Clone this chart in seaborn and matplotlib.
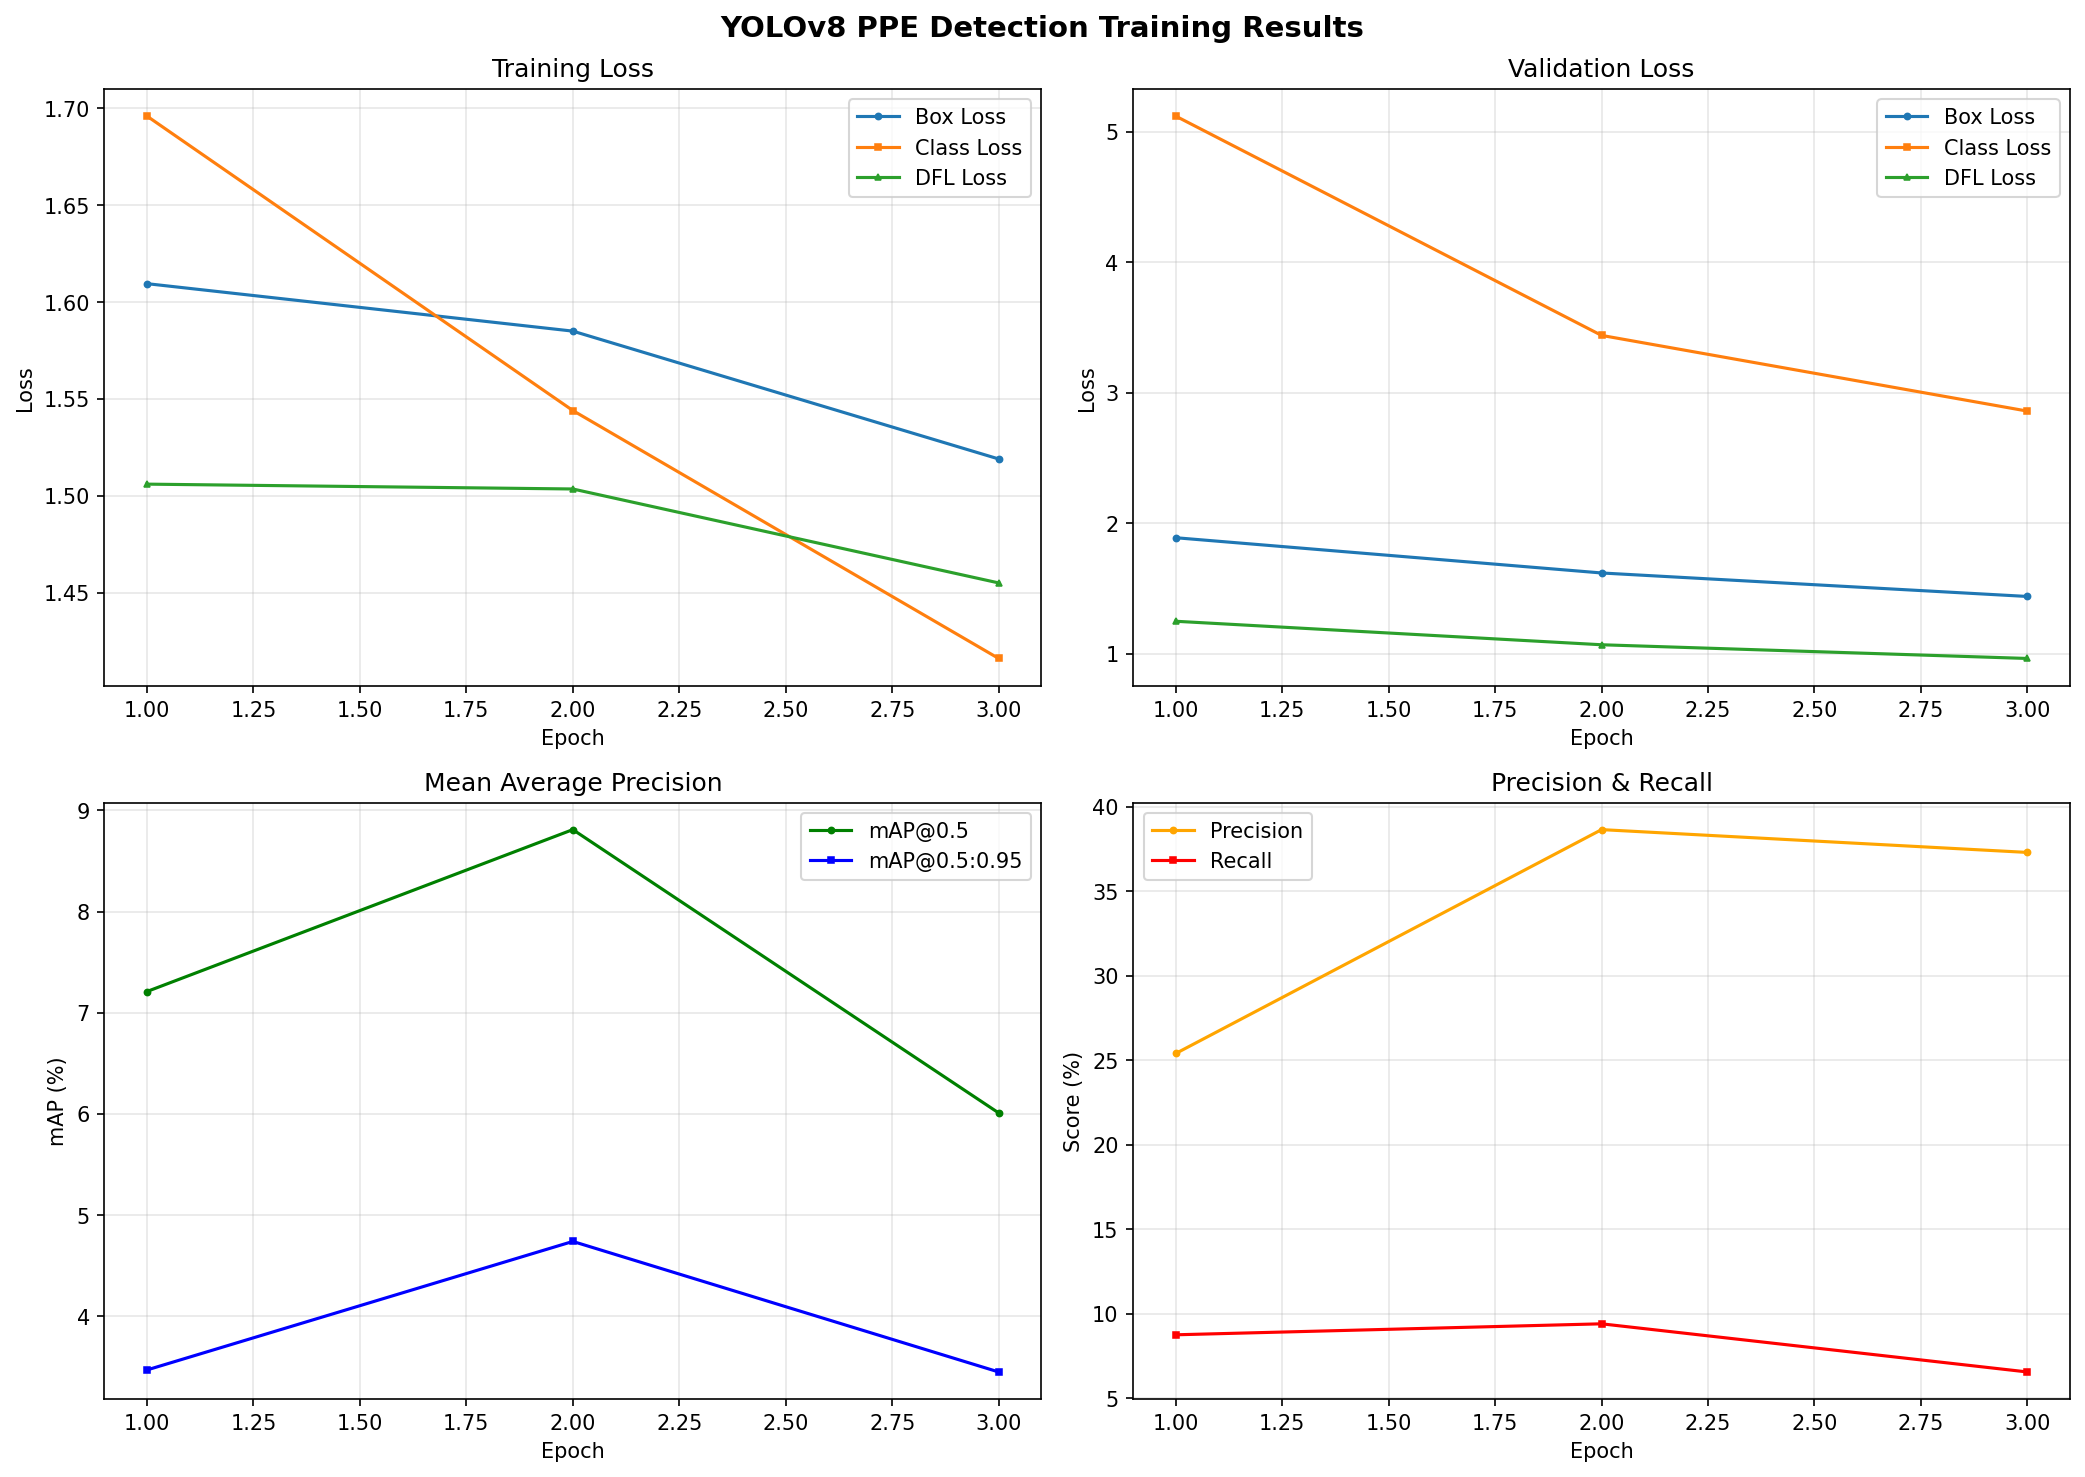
import numpy as np
import pandas as pd
import matplotlib
matplotlib.use('Agg')
import matplotlib.pyplot as plt
import seaborn as sns

# данные по эпохам
epochs = [1, 2, 3]

train_box_loss = [1.6095, 1.585, 1.519]
train_cls_loss = [1.696, 1.544, 1.416]
train_dfl_loss = [1.506, 1.5035, 1.455]

val_box_loss = [1.89, 1.62, 1.44]
val_cls_loss = [5.12, 3.44, 2.86]
val_dfl_loss = [1.25, 1.07, 0.965]

map50 = [7.21, 8.81, 6.01]
map50_95 = [3.47, 4.74, 3.45]

precision = [25.4, 38.65, 37.3]
recall = [8.75, 9.4, 6.55]

plt.style.use('default')
plt.rcParams['font.family'] = ['DejaVu Sans']

fig, axes = plt.subplots(2, 2, figsize=(14, 10), dpi=150)
fig.suptitle('YOLOv8 PPE Detection Training Results', fontsize=14, fontweight='bold')


def draw(ax, series, title, ylabel, legend_loc):
    for values, label, color, marker in series:
        sns.lineplot(x=epochs, y=values, ax=ax, label=label, color=color,
                     marker=marker, markersize=3, markeredgecolor=color, linewidth=1.5)
    ax.set_title(title, fontsize=12)
    ax.set_xlabel('Epoch')
    ax.set_ylabel(ylabel)
    ax.grid(True, alpha=0.3)
    ax.legend(loc=legend_loc)


draw(axes[0, 0], [(train_box_loss, 'Box Loss', '#1f77b4', 'o'),
                  (train_cls_loss, 'Class Loss', '#ff7f0e', 's'),
                  (train_dfl_loss, 'DFL Loss', '#2ca02c', '^')],
     'Training Loss', 'Loss', 'upper right')

draw(axes[0, 1], [(val_box_loss, 'Box Loss', '#1f77b4', 'o'),
                  (val_cls_loss, 'Class Loss', '#ff7f0e', 's'),
                  (val_dfl_loss, 'DFL Loss', '#2ca02c', '^')],
     'Validation Loss', 'Loss', 'upper right')

draw(axes[1, 0], [(map50, 'mAP@0.5', 'green', 'o'),
                  (map50_95, 'mAP@0.5:0.95', 'blue', 's')],
     'Mean Average Precision', 'mAP (%)', 'upper right')

draw(axes[1, 1], [(precision, 'Precision', 'orange', 'o'),
                  (recall, 'Recall', 'red', 's')],
     'Precision & Recall', 'Score (%)', 'upper left')

plt.tight_layout()
plt.savefig('out.png', dpi=150, bbox_inches='tight')
